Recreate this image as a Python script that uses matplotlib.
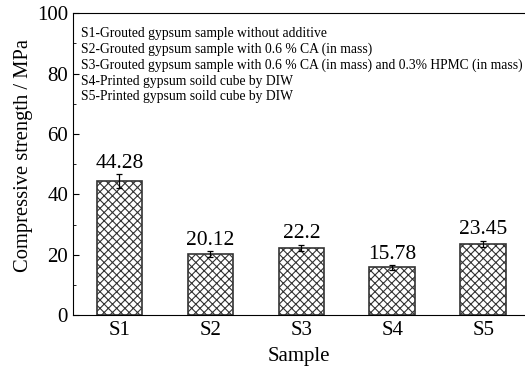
import numpy as np
import matplotlib.pyplot as plt
from matplotlib.ticker import MultipleLocator

plt.rcParams['font.family'] = ['Liberation Serif', 'DejaVu Serif']
plt.rcParams['hatch.linewidth'] = 0.8

#---------------- dati
samples = ['S1', 'S2', 'S3', 'S4', 'S5']
strength = [44.28, 20.12, 22.2, 15.78, 23.45]
errors = [2.3, 1.0, 1.0, 0.7, 1.0]
labels = ['44.28', '20.12', '22.2', '15.78', '23.45']
legend_lines = ['S1-Grouted gypsum sample without additive',
                'S2-Grouted gypsum sample with 0.6 % CA (in mass)',
                'S3-Grouted gypsum sample with 0.6 % CA (in mass) and 0.3% HPMC (in mass)',
                'S4-Printed gypsum soild cube by DIW',
                'S5-Printed gypsum soild cube by DIW']

x = np.arange(1, len(samples) + 1)

fig = plt.figure(figsize=(5.25, 3.66), dpi=100)
ax = fig.add_axes([0.139, 0.139, 0.861, 0.825])

ax.bar(x, strength, width=0.5, color='white', edgecolor='#333333',
       linewidth=1.2, hatch='xxxx', zorder=2)
ax.errorbar(x, strength, yerr=errors, fmt='none', ecolor='black',
            elinewidth=0.9, capsize=2.5, capthick=0.9, zorder=3)

for xi, yi, ei, lab in zip(x, strength, errors, labels):
    ax.text(xi, yi + ei + 0.6, lab, ha='center', va='bottom', fontsize=15.5)

ax.text(0.018, 0.953, '\n'.join(legend_lines), transform=ax.transAxes,
        ha='left', va='top', fontsize=9.8, linespacing=1.25)

ax.set_xlim(0.49, 5.46)
ax.set_ylim(0, 100)
ax.set_xticks(x)
ax.set_xticklabels(samples)
ax.yaxis.set_major_locator(MultipleLocator(20))
ax.yaxis.set_minor_locator(MultipleLocator(10))
ax.tick_params(axis='y', which='major', direction='in', length=4, labelsize=15)
ax.tick_params(axis='y', which='minor', direction='in', length=2)
ax.tick_params(axis='x', length=0, labelsize=15, pad=4)
ax.spines['right'].set_visible(False)

ax.set_xlabel('Sample', fontsize=15, labelpad=5)
ax.set_ylabel('Compressive strength / MPa', fontsize=14.8)
ax.yaxis.set_label_coords(-0.088, 0.53)

fig.savefig('out.png', dpi=100)
